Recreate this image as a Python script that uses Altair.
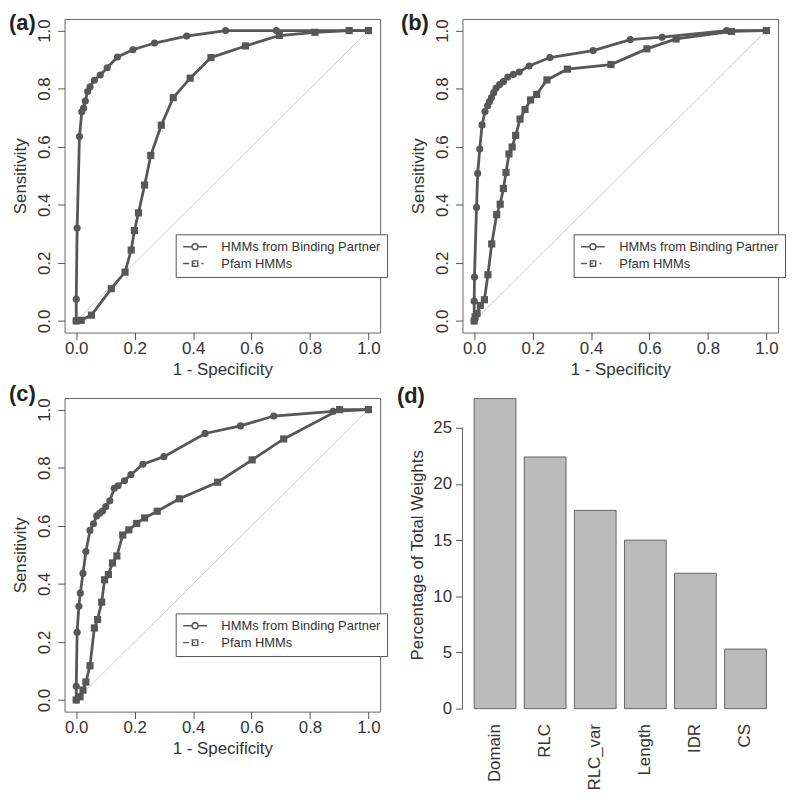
import altair as alt
import pandas as pd

SERIES = ["HMMs from Binding Partner", "Pfam HMMs"]

# Panel (a)
A_BP_X = [0, 0, 0.003, 0.011, 0.019, 0.025, 0.031, 0.039, 0.047, 0.062, 0.082, 0.106, 0.141, 0.194, 0.268, 0.378, 0.511, 0.685, 1.0]
A_BP_Y = [0, 0.075, 0.32, 0.635, 0.72, 0.733, 0.757, 0.79, 0.806, 0.829, 0.847, 0.872, 0.909, 0.934, 0.957, 0.981, 1.0, 1.0, 1.0]
A_PF_X = [0, 0.017, 0.052, 0.12, 0.167, 0.188, 0.199, 0.213, 0.234, 0.255, 0.291, 0.332, 0.39, 0.461, 0.579, 0.695, 0.817, 0.934, 1.0]
A_PF_Y = [0, 0.002, 0.02, 0.111, 0.168, 0.244, 0.311, 0.372, 0.468, 0.57, 0.674, 0.769, 0.836, 0.907, 0.947, 0.983, 0.994, 1.0, 1.0]

# Panel (b)
B_BP_X = [0, 0, 0.001, 0.008, 0.012, 0.019, 0.027, 0.037, 0.046, 0.052, 0.059, 0.067, 0.075, 0.087, 0.1, 0.115, 0.134, 0.154, 0.188, 0.259, 0.407, 0.534, 0.643, 0.864, 1.0]
B_BP_Y = [0, 0.068, 0.151, 0.391, 0.508, 0.592, 0.675, 0.721, 0.741, 0.755, 0.769, 0.786, 0.802, 0.814, 0.824, 0.84, 0.849, 0.857, 0.878, 0.907, 0.931, 0.969, 0.977, 1.0, 1.0]
B_PF_X = [0, 0.003, 0.01, 0.021, 0.035, 0.047, 0.06, 0.077, 0.089, 0.1, 0.109, 0.119, 0.13, 0.142, 0.157, 0.174, 0.193, 0.214, 0.249, 0.319, 0.468, 0.591, 0.691, 0.881, 1.0]
B_PF_Y = [0, 0.014, 0.026, 0.053, 0.073, 0.159, 0.265, 0.366, 0.402, 0.456, 0.511, 0.575, 0.599, 0.639, 0.695, 0.728, 0.761, 0.78, 0.83, 0.867, 0.883, 0.937, 0.971, 0.997, 1.0]

# Panel (c)
C_BP_X = [0, 0, 0.003, 0.009, 0.014, 0.023, 0.033, 0.047, 0.059, 0.07, 0.08, 0.09, 0.101, 0.115, 0.13, 0.143, 0.165, 0.187, 0.228, 0.3, 0.441, 0.562, 0.676, 0.879, 1.0]
C_BP_Y = [0, 0.047, 0.233, 0.323, 0.368, 0.436, 0.511, 0.584, 0.607, 0.634, 0.643, 0.651, 0.666, 0.686, 0.729, 0.738, 0.755, 0.776, 0.812, 0.838, 0.918, 0.944, 0.978, 0.994, 1.0]
C_PF_X = [0, 0.013, 0.023, 0.033, 0.047, 0.062, 0.073, 0.087, 0.097, 0.11, 0.124, 0.139, 0.159, 0.18, 0.207, 0.234, 0.277, 0.353, 0.484, 0.602, 0.71, 0.901, 1.0]
C_PF_Y = [0, 0.011, 0.034, 0.062, 0.118, 0.248, 0.277, 0.337, 0.414, 0.432, 0.472, 0.496, 0.568, 0.586, 0.608, 0.627, 0.65, 0.693, 0.75, 0.827, 0.899, 1.0, 1.0]

# Panel (d)
FEATURES = ["Domain", "RLC", "RLC_var", "Length", "IDR", "CS"]
WEIGHTS = [27.6, 22.4, 17.65, 15.0, 12.05, 5.3]

ROC_TICKS = [0.0, 0.2, 0.4, 0.6, 0.8, 1.0]
PCT_TICKS = [0, 5, 10, 15, 20, 25]

W, H = 318, 316
FONT = "Liberation Sans"
DARK = "#575757"
TEXT = "#333333"

PATH_BP = ("M-2.4,0L-0.6,0M0.6,0L2.4,0"
           "M0.6,0A0.6,0.6,0,1,1,-0.6,0A0.6,0.6,0,1,1,0.6,0")
PATH_PF = ("M-2.4,0L-1.2,0M-0.55,-0.55L0.55,-0.55L0.55,0.55L-0.55,0.55Z"
           "M-0.55,0L0,0M1.3,0L1.7,0")


def roc_panel(tag, bx, by, px, py, lab_pos):
    rows = []
    for i, (xv, yv) in enumerate(zip(bx, by)):
        rows.append({"fpr": xv, "tpr": yv, "series": SERIES[0], "idx": i})
    for i, (xv, yv) in enumerate(zip(px, py)):
        rows.append({"fpr": xv, "tpr": yv, "series": SERIES[1], "idx": i})
    df = pd.DataFrame(rows)

    xs = alt.Scale(domain=[-0.04, 1.04], nice=False, zero=False)
    ys = alt.Scale(domain=[-0.04, 1.04], nice=False, zero=False)
    x = alt.X("fpr:Q", scale=xs, axis=alt.Axis(values=ROC_TICKS, format=".1f", title="1 - Specificity",
                                                labelPadding=1, titlePadding=5))
    y = alt.Y("tpr:Q", scale=ys, axis=alt.Axis(values=ROC_TICKS, format=".1f", title="Sensitivity",
                                                labelAngle=-90, labelAlign="center", labelBaseline="bottom",
                                                labelPadding=4, titlePadding=6))

    diag = alt.Chart(pd.DataFrame({"fpr": [0.0, 1.0], "tpr": [0.0, 1.0]})).mark_line(
        color="#cccccc", strokeWidth=1).encode(x=x, y=y)

    base = alt.Chart(df)
    lines = base.mark_line(color=DARK, strokeWidth=2.8).encode(
        x=x, y=y, detail="series:N", order=alt.Order("idx:Q"))
    pts = base.mark_point(filled=True, opacity=1, color=DARK, size=52).encode(
        x=x, y=y,
        shape=alt.Shape("series:N", scale=alt.Scale(domain=SERIES, range=["circle", "square"]), legend=None))
    leg = base.mark_point(filled=False, opacity=0, color=DARK, strokeWidth=1.4).encode(
        x=x, y=y,
        shape=alt.Shape("series:N", scale=alt.Scale(domain=SERIES, range=[PATH_BP, PATH_PF]),
                        legend=alt.Legend(title=None, orient="none", legendX=112, legendY=217,
                                          strokeColor="#555555", fillColor="white", padding=6,
                                          cornerRadius=0, symbolSize=100, symbolOpacity=1,
                                          symbolStrokeColor=DARK, symbolStrokeWidth=1.4,
                                          symbolOffset=7, labelOffset=20, rowPadding=3,
                                          labelLimit=400,
                                          labelFontSize=13, labelColor=TEXT, labelFont=FONT)))
    label = alt.Chart(pd.DataFrame({"t": [tag]})).mark_text(
        align="left", baseline="top", fontSize=22, fontWeight="bold", color="#222222", font=FONT
    ).encode(text="t:N", x=alt.value(lab_pos[0]), y=alt.value(lab_pos[1]))

    return alt.layer(diag, lines, pts, leg, label).resolve_scale(shape="independent").properties(
        width=W, height=H)


pa = roc_panel("(a)", A_BP_X, A_BP_Y, A_PF_X, A_PF_Y, (-56, -6))
pb = roc_panel("(b)", B_BP_X, B_BP_Y, B_PF_X, B_PF_Y, (-62, -6))
pc = roc_panel("(c)", C_BP_X, C_BP_Y, C_PF_X, C_PF_Y, (-56, -14))

bar_df = pd.DataFrame({"feature": FEATURES, "weight": WEIGHTS})
yb = alt.Y("weight:Q", scale=alt.Scale(domain=[-0.265, 27.65], nice=False, zero=False),
           axis=alt.Axis(values=PCT_TICKS, title="Percentage of Total Weights", labelAngle=0,
                         labelPadding=4, titlePadding=6))
bars = alt.Chart(bar_df).mark_bar(fill="#bbbbbb", stroke="#666666", strokeWidth=1).encode(
    x=alt.X("feature:N", sort=FEATURES,
            scale=alt.Scale(paddingInner=0.1667, paddingOuter=0.2333),
            axis=alt.Axis(title=None, labelAngle=-90, ticks=False, labelPadding=12)),
    y=yb, y2=alt.datum(0))
axis_line = alt.Chart(pd.DataFrame({"weight": [0], "weight_end": [25]})).mark_rule(
    color="#666666", strokeWidth=1).encode(y=yb, y2="weight_end:Q", x=alt.value(0))
dlabel = alt.Chart(pd.DataFrame({"t": ["(d)"]})).mark_text(
    align="left", baseline="top", fontSize=22, fontWeight="bold", color="#222222", font=FONT
).encode(text="t:N", x=alt.value(-66), y=alt.value(-12))
pd_chart = alt.layer(bars, axis_line, dlabel).properties(
    width=W, height=H, view=alt.ViewBackground(stroke="transparent"))

chart = alt.concat(pa, pb, pc, pd_chart, columns=2, spacing={"row": 66, "column": 83},
                   bounds="flush").properties(padding=0).configure(font=FONT).configure_view(
    stroke="#666666", strokeWidth=1).configure_axis(
    labelFont=FONT, titleFont=FONT, labelFontSize=17, titleFontSize=17, titleFontWeight="normal",
    labelColor=TEXT, titleColor=TEXT, tickColor="#555555", tickSize=7, domain=False, grid=False)

chart.save("out.html", embed_options={"renderer": "svg", "actions": False})
